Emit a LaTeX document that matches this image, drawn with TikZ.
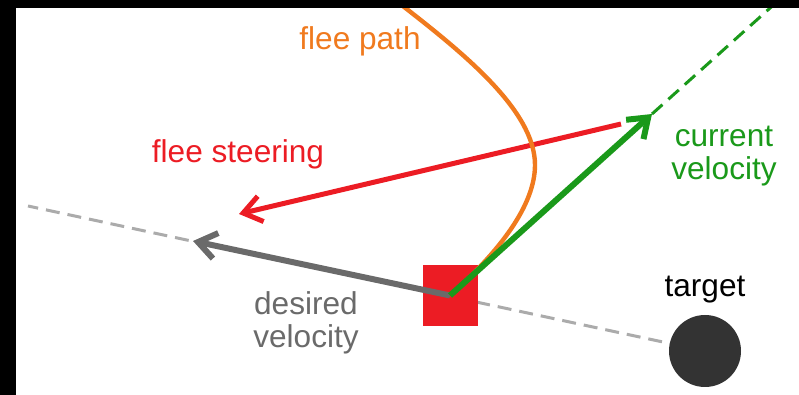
\documentclass[tikz,border=0pt]{standalone}
\usepackage{fontspec}
\setmainfont{Liberation Sans}
\usetikzlibrary{arrows.meta,positioning}
\definecolor{fleeorange}{HTML}{F07A1E}
\definecolor{fleered}{HTML}{EC1C24}
\definecolor{velgreen}{HTML}{1A991A}
\definecolor{desgray}{HTML}{6A6A6A}
\definecolor{guidegray}{HTML}{ABABAB}
\definecolor{targetgray}{HTML}{333333}

\begin{document}
\begin{tikzpicture}[
    x=0.5pt, y=-0.5pt,
    >={Straight Barb[length=9pt,width=13pt]},
    lbl/.style={font=\fontsize{15.8}{16.5}\selectfont, align=center, inner sep=0pt},
    vec/.style={->, line width=3pt},
    guide/.style={line width=1.5pt, dash pattern=on 7pt off 4pt},
  ]
  \useasboundingbox (0,0) rectangle (799,395);
  % guide lines behind everything
  \coordinate (tgt) at (705,351);
  \coordinate (far) at (28,206);
  \coordinate (vel) at (652,114);
  \coordinate (ahead) at (779,0);
  \draw[guide, guidegray] (tgt) -- (far);
  \draw[guide, velgreen] (vel) -- (ahead);

  \node[fill=fleered, minimum width=27.5pt, minimum height=30.5pt, inner sep=0pt] (agent) at (450,295.5) {};
  \node[circle, fill=targetgray, minimum size=36pt, inner sep=0pt] (target) at (tgt) {};

  \coordinate (want) at (193,241);
  \coordinate (steer0) at (621,124);
  \coordinate (steer1) at (239,214);
  \coordinate (pathtop) at (399,3);
  \coordinate (pathturn) at (535,165);

  \draw[vec, line width=2.5pt, fleered] (steer0) -- (steer1);
  \draw[line width=2.2pt, fleeorange] (pathtop) .. controls (462,52) and (535,110) .. (pathturn)
    .. controls (535,205) and (500,251) .. (agent.center);
  \draw[vec, desgray] (agent.center) -- (want);
  \draw[vec, velgreen] (agent.center) -- (vel);

  \node[lbl, anchor=base, text=fleeorange] (pathlbl) at (360,50) {flee path};
  \node[lbl, anchor=base, text=fleered] (steerlbl) at (238,163) {flee steering};
  \node[lbl, text=velgreen] (vellbl) at (724,156) {current\\velocity};
  \node[lbl, text=desgray] (deslbl) at (306,323) {desired\\velocity};
  \node[lbl, anchor=base] (targetlbl) at (705,297) {target};

  % black edges of the frame
  \fill[black] (0,0) rectangle (799,8);
  \fill[black] (0,0) rectangle (16,395);
\end{tikzpicture}
\end{document}
